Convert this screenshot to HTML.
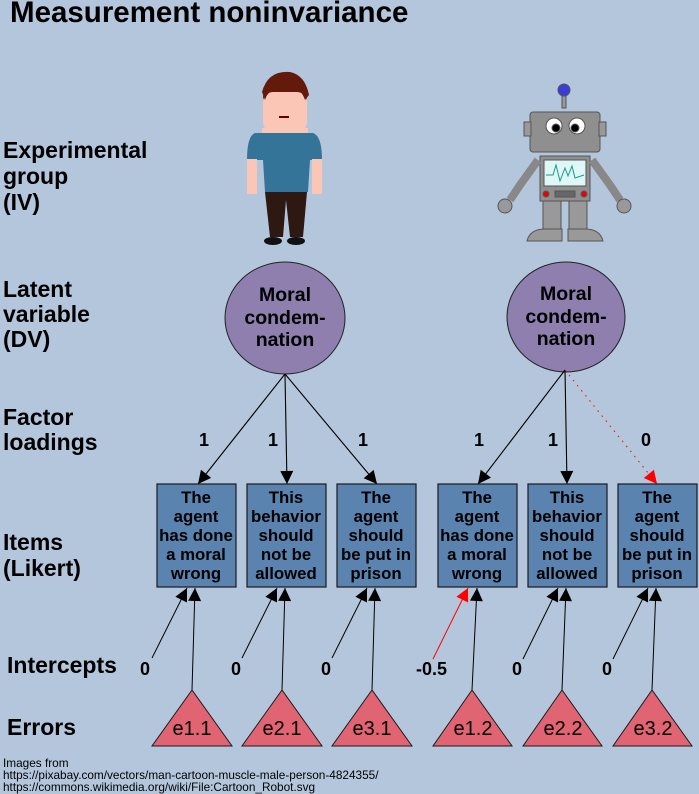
<!DOCTYPE html>
<html><head><meta charset="utf-8"><style>
html,body{margin:0;padding:0;background:#b4c6dc;}
svg{display:block;font-family:"Liberation Sans",sans-serif;}
.lb{font-weight:bold;font-size:23px;fill:#000;}
.bx{fill:#5a83b0;stroke:#1a1a1a;stroke-width:1.2;}
.bt{font-weight:bold;font-size:16.8px;text-anchor:middle;}
.tri{fill:#e06472;stroke:#1a1a1a;stroke-width:1;}
.tt{font-size:20px;text-anchor:middle;}
.num{font-weight:bold;font-size:18px;}
</style></head><body>
<svg width="699" height="794" viewBox="0 0 699 794">
<defs>
<marker id="a" viewBox="0 0 10 10" refX="10" refY="5" markerWidth="15" markerHeight="13" markerUnits="userSpaceOnUse" orient="auto"><path d="M0,0L10,5L0,10z" fill="#000"/></marker>
<marker id="r" viewBox="0 0 10 10" refX="10" refY="5" markerWidth="15" markerHeight="13" markerUnits="userSpaceOnUse" orient="auto"><path d="M0,0L10,5L0,10z" fill="#f00"/></marker>
</defs>
<rect width="699" height="794" fill="#b4c6dc"/>
<text x="10" y="22" font-weight="bold" font-size="29.5">Measurement noninvariance</text>

<text class="lb" x="3" y="158">Experimental</text>
<text class="lb" x="3" y="184">group</text>
<text class="lb" x="3" y="210">(IV)</text>
<text class="lb" x="3" y="297">Latent</text>
<text class="lb" x="3" y="322">variable</text>
<text class="lb" x="3" y="347">(DV)</text>
<text class="lb" x="3" y="425">Factor</text>
<text class="lb" x="3" y="450">loadings</text>
<text class="lb" x="3" y="550">Items</text>
<text class="lb" x="3" y="576">(Likert)</text>
<text class="lb" x="7" y="673">Intercepts</text>
<text class="lb" x="7" y="735">Errors</text>

<!-- person -->
<g>
<ellipse cx="285" cy="97" rx="22" ry="20" fill="#641a0a"/>
<rect x="263" y="92" width="44" height="40" rx="10" fill="#fcc6b6"/>
<path d="M262,92 Q268,70 290,72 Q305,75 309,95 L305,100 Q300,85 285,88 Q268,88 265,100z" fill="#641a0a"/>
<rect x="262" y="128" width="46" height="6" fill="#fcc6b6"/>
<path d="M255,133 L313,133 Q322,136 322,160 L310,160 L308,192 L265,192 L263,160 L247,160 Q247,136 255,133z" fill="#337498"/>
<rect x="247" y="159" width="10" height="35" fill="#fcc6b6"/>
<rect x="312" y="159" width="10" height="35" fill="#fcc6b6"/>
<path d="M265,192 L307,192 L303,237 L290,237 L286,200 L283,237 L270,237z" fill="#2d1812"/>
<ellipse cx="273" cy="241" rx="9" ry="4" fill="#111"/>
<ellipse cx="296" cy="241" rx="9" ry="4" fill="#111"/>
<rect x="279" y="116" width="10" height="2" fill="#600"/>
</g>

<!-- robot -->
<g stroke="#555" stroke-width="1">
<circle cx="564" cy="90" r="6" fill="#3b3bd8"/>
<rect x="562" y="96" width="4" height="12" fill="#999"/>
<rect x="530" y="112" width="70" height="40" rx="3" fill="#8f8f8f"/>
<rect x="524" y="122" width="7" height="14" fill="#999"/>
<rect x="599" y="122" width="7" height="14" fill="#999"/>
<circle cx="554" cy="126" r="8" fill="#fff"/><circle cx="556" cy="128" r="4" fill="#000"/>
<circle cx="577" cy="126" r="8" fill="#fff"/><circle cx="575" cy="128" r="4" fill="#000"/>
<rect x="540" y="156" width="50" height="45" fill="#8f8f8f"/>
<rect x="544" y="160" width="42" height="26" fill="#dff7f7"/>
<path d="M546,175 L553,175 L556,165 L560,181 L565,168 L568,176 L572,166 L575,178 L584,175" fill="none" stroke="#1a9a8a"/>
<circle cx="546" cy="194" r="3" fill="#e00"/><circle cx="584" cy="194" r="3" fill="#e00"/>
<rect x="555" y="191" width="20" height="6" fill="#666"/>
<path d="M538,160 L520,185 L510,200" fill="none" stroke="#888" stroke-width="8"/>
<path d="M592,160 L610,185 L620,200" fill="none" stroke="#888" stroke-width="8"/>
<circle cx="505" cy="206" r="7" fill="#999"/><circle cx="624" cy="206" r="7" fill="#999"/>
<rect x="543" y="201" width="18" height="28" fill="#999"/>
<rect x="569" y="201" width="18" height="28" fill="#999"/>
<path d="M527,241 Q530,229 545,229 L562,229 L562,241z" fill="#999"/>
<path d="M568,241 L568,229 L585,229 Q600,229 603,241z" fill="#999"/>
</g>

<!-- latent -->
<ellipse cx="285" cy="318" rx="60" ry="56" fill="#8e7fae" stroke="#222" stroke-width="1"/>
<ellipse cx="566" cy="317" rx="59" ry="55" fill="#8e7fae" stroke="#222" stroke-width="1"/>
<g style="font-size:19.5px;font-weight:bold;text-anchor:middle">
<text x="285" y="301">Moral</text><text x="285" y="324">condem-</text><text x="285" y="346">nation</text>
<text x="566" y="300">Moral</text><text x="566" y="323">condem-</text><text x="566" y="345">nation</text>
</g>

<!-- loadings -->
<g stroke="#000" stroke-width="1.1" fill="none">
<line x1="285" y1="374" x2="198" y2="484" marker-end="url(#a)"/>
<line x1="285" y1="374" x2="287" y2="484" marker-end="url(#a)"/>
<line x1="285" y1="374" x2="377" y2="484" marker-end="url(#a)"/>
<line x1="565" y1="370" x2="478" y2="484" marker-end="url(#a)"/>
<line x1="565" y1="370" x2="567" y2="484" marker-end="url(#a)"/>
</g>
<line x1="565" y1="370" x2="657" y2="484" stroke="#f00" stroke-width="1" stroke-dasharray="1.5,5" marker-end="url(#r)"/>
<g class="num">
<text x="199" y="446">1</text><text x="268" y="446">1</text><text x="358" y="446">1</text>
<text x="474" y="446">1</text><text x="548" y="446">1</text><text x="641" y="446">0</text>
</g>

<!-- boxes -->
<g>
<rect class="bx" x="157" y="484" width="79" height="103"/>
<rect class="bx" x="247" y="484" width="79" height="103"/>
<rect class="bx" x="337" y="484" width="79" height="103"/>
<rect class="bx" x="438" y="484" width="79" height="103"/>
<rect class="bx" x="528" y="484" width="79" height="103"/>
<rect class="bx" x="618" y="484" width="79" height="103"/>
</g>
<g class="bt">
<text x="196" y="503">The</text><text x="196" y="522">agent</text><text x="196" y="541">has done</text><text x="196" y="560">a moral</text><text x="196" y="579">wrong</text>
<text x="286" y="503">This</text><text x="286" y="522">behavior</text><text x="286" y="541">should</text><text x="286" y="560">not be</text><text x="286" y="579">allowed</text>
<text x="376" y="503">The</text><text x="376" y="522">agent</text><text x="376" y="541">should</text><text x="376" y="560">be put in</text><text x="376" y="579">prison</text>
<text x="477" y="503">The</text><text x="477" y="522">agent</text><text x="477" y="541">has done</text><text x="477" y="560">a moral</text><text x="477" y="579">wrong</text>
<text x="567" y="503">This</text><text x="567" y="522">behavior</text><text x="567" y="541">should</text><text x="567" y="560">not be</text><text x="567" y="579">allowed</text>
<text x="657" y="503">The</text><text x="657" y="522">agent</text><text x="657" y="541">should</text><text x="657" y="560">be put in</text><text x="657" y="579">prison</text>
</g>

<!-- intercept & error arrows -->
<g stroke="#000" stroke-width="1" fill="none">
<line x1="152" y1="658" x2="187" y2="588" marker-end="url(#a)"/>
<line x1="192" y1="690" x2="195" y2="588" marker-end="url(#a)"/>
<line x1="242" y1="658" x2="277" y2="588" marker-end="url(#a)"/>
<line x1="282" y1="690" x2="285" y2="588" marker-end="url(#a)"/>
<line x1="332" y1="658" x2="367" y2="588" marker-end="url(#a)"/>
<line x1="372" y1="690" x2="375" y2="588" marker-end="url(#a)"/>
<line x1="472" y1="690" x2="477" y2="588" marker-end="url(#a)"/>
<line x1="523" y1="659" x2="558" y2="588" marker-end="url(#a)"/>
<line x1="562" y1="690" x2="566" y2="588" marker-end="url(#a)"/>
<line x1="613" y1="659" x2="648" y2="588" marker-end="url(#a)"/>
<line x1="652" y1="690" x2="656" y2="588" marker-end="url(#a)"/>
</g>
<line x1="433" y1="659" x2="468" y2="588" stroke="#f00" stroke-width="1" marker-end="url(#r)"/>
<g class="num">
<text x="140" y="675">0</text><text x="231" y="675">0</text><text x="321" y="675">0</text>
<text x="416" y="675">-0.5</text><text x="512" y="675">0</text><text x="602" y="675">0</text>
</g>

<!-- triangles -->
<g>
<polygon class="tri" points="192,690 152,746 232,746"/>
<polygon class="tri" points="282,690 242,746 322,746"/>
<polygon class="tri" points="372,690 332,746 412,746"/>
<polygon class="tri" points="472,690 433,746 512,746"/>
<polygon class="tri" points="562,690 523,746 602,746"/>
<polygon class="tri" points="652,690 613,746 692,746"/>
</g>
<g class="tt">
<text x="192" y="735">e1.1</text><text x="282" y="735">e2.1</text><text x="372" y="735">e3.1</text>
<text x="473" y="735">e1.2</text><text x="563" y="735">e2.2</text><text x="653" y="735">e3.2</text>
</g>

<g font-size="11.8">
<text x="3" y="767">Images from</text>
<text x="3" y="779">https://pixabay.com/vectors/man-cartoon-muscle-male-person-4824355/</text>
<text x="3" y="791">https://commons.wikimedia.org/wiki/File:Cartoon_Robot.svg</text>
</g>
</svg>
</body></html>
